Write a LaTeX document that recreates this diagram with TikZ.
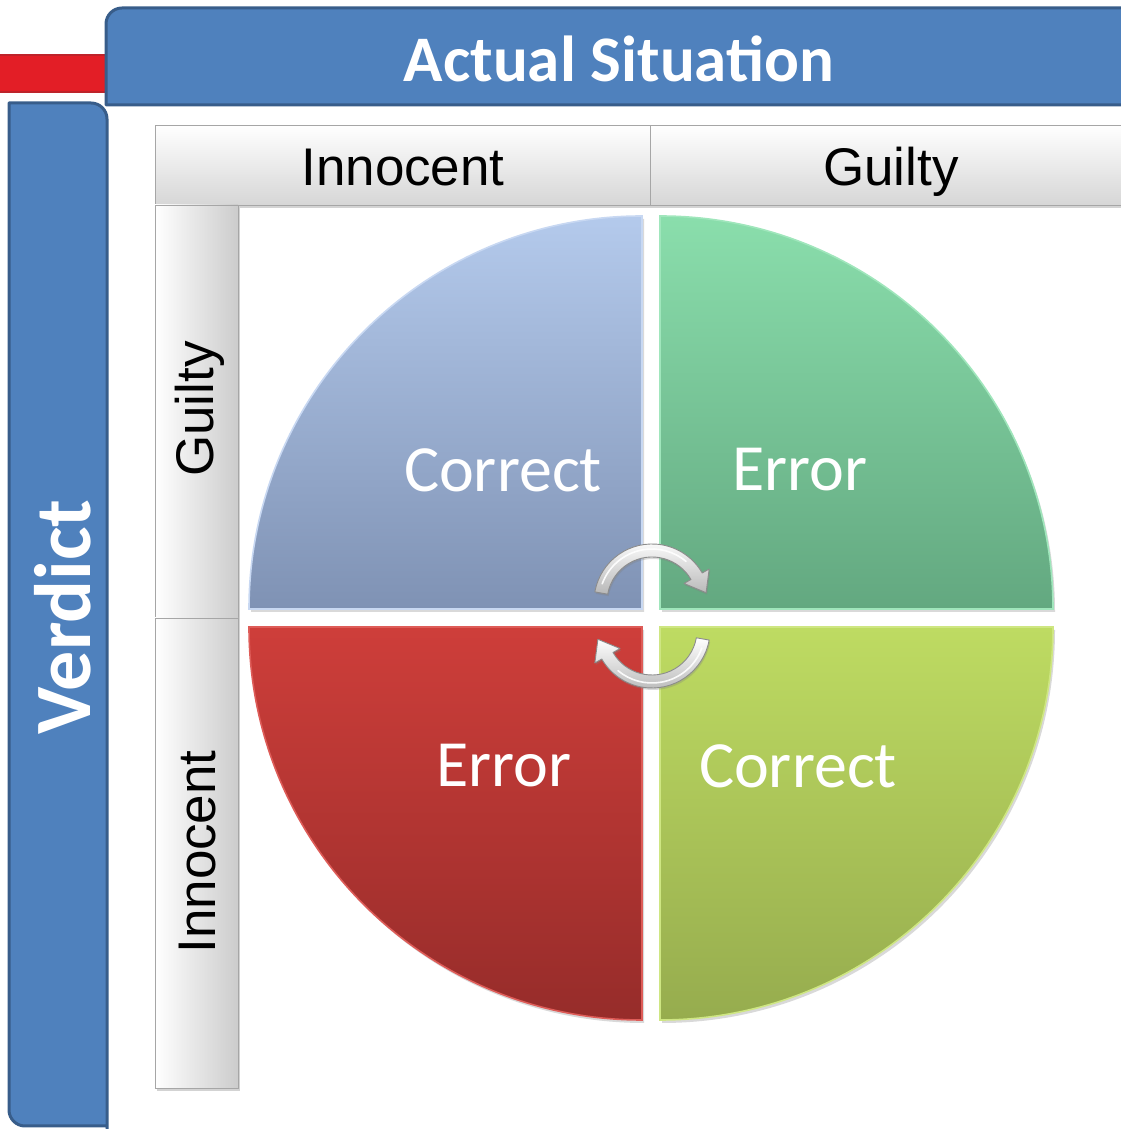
\documentclass[tikz,border=0pt]{standalone}
\usepackage{fontspec}
\setmainfont{Carlito}
\newfontfamily\arialfont{Liberation Sans}
\usetikzlibrary{calc,shadows}

\definecolor{barblue}{RGB}{79,129,189}
\definecolor{barline}{RGB}{56,93,138}
\definecolor{barred}{RGB}{227,30,38}
\definecolor{barredline}{RGB}{190,35,42}
\definecolor{blueTop}{RGB}{180,202,236}
\definecolor{blueBot}{RGB}{127,146,180}
\definecolor{blueEdge}{RGB}{200,216,242}
\definecolor{greenTop}{RGB}{138,222,172}
\definecolor{greenBot}{RGB}{99,168,128}
\definecolor{greenEdge}{RGB}{160,230,188}
\definecolor{redTop}{RGB}{206,62,58}
\definecolor{redBot}{RGB}{150,44,42}
\definecolor{redEdge}{RGB}{222,92,88}
\definecolor{limeTop}{RGB}{190,219,98}
\definecolor{limeBot}{RGB}{150,172,78}
\definecolor{limeEdge}{RGB}{206,230,130}

\tikzset{
  bar/.style={fill=barblue, draw=barline, line width=3pt, line join=round},
  bartext/.style={text=white, font=\bfseries\fontsize{65}{70}\selectfont, inner sep=0pt},
  hbox/.style={top color=white, bottom color=black!16, draw=black!35, line width=0.8pt,
    drop shadow={opacity=0.35, shadow xshift=1.5pt, shadow yshift=-3pt}},
  vbox/.style={left color=white, right color=black!20, draw=black!35, line width=0.8pt,
    drop shadow={opacity=0.35, shadow xshift=2pt, shadow yshift=-3pt}},
  headtext/.style={text=black, font=\arialfont\fontsize{53}{55}\selectfont, inner sep=0pt},
  quad/.style={line width=1.6pt,
    drop shadow={opacity=0.3, shadow xshift=2pt, shadow yshift=-3pt}},
  quadtext/.style={text=white, font=\fontsize{66}{68}\selectfont, inner sep=0pt},
  silver/.style={top color=white, bottom color=black!28, draw=black!45, line width=0.9pt,
    line join=round, drop shadow={opacity=0.3, shadow xshift=1pt, shadow yshift=-2pt}},
}

% curved arrow: arc of the ring from 170 deg clockwise to 30 deg, head at the end
\newcommand{\ringarrow}[3]{%
  \begin{scope}[shift={(#1,#2)}, rotate=#3]
    \path[silver] (170:58) arc[start angle=170, end angle=30, radius=58]
      -- (30:66) -- ($(30:51.5)+(-60:19)$) -- (30:37) -- (30:45)
      arc[start angle=30, end angle=170, radius=45] -- cycle;
    \draw[white, line width=1.6pt, line cap=round, opacity=0.9]
      (160:53) arc[start angle=160, end angle=50, radius=53];
  \end{scope}}

\begin{document}
\begin{tikzpicture}[x=1pt, y=1pt]
\useasboundingbox (0,0) rectangle (1120,1129);

% red strip at the top left
\path[fill=barred, draw=barredline, line width=1.5pt] (-5,1074) rectangle (108,1037);

% blue title bars
\path[bar] (106,1024) -- (106,1105) arc[start angle=180, end angle=90, radius=16]
  -- (1135,1121) -- (1135,1024) -- cycle;
\node[bartext] (actual) at (619,1070) {Actual Situation};

\path[bar] (9,1026) -- (91,1026) arc[start angle=90, end angle=0, radius=16]
  -- (107,-5) -- (107,3) -- (25,3) arc[start angle=270, end angle=180, radius=16] -- cycle;
\node[bartext, font=\bfseries\fontsize{80}{82}\selectfont, rotate=90] (verdict) at (63,512) {Verdict};

% column headers
\path[hbox] (155,1004) rectangle (650,924);
\path[hbox] (650,1004) rectangle (1135,924);
\node[headtext, anchor=base] (colinn) at (403,943) {Innocent};
\node[headtext, anchor=base] (colgui) at (891,943) {Guilty};

% row headers
\path[vbox] (155,924) rectangle (238,511);
\path[vbox] (155,511) rectangle (238,41);
\node[headtext, rotate=90] (rowgui) at (200,720) {Guilty};
\node[headtext, rotate=90] (rowinn) at (198,277) {Innocent};

% four quarter discs
\path[quad, top color=blueTop, bottom color=blueBot, draw=blueEdge]
  (642,520) -- (249,520) arc[start angle=180, end angle=90, radius=393] -- cycle;
\path[quad, top color=greenTop, bottom color=greenBot, draw=greenEdge]
  (660,520) -- (660,913) arc[start angle=90, end angle=0, radius=393] -- cycle;
\path[quad, top color=redTop, bottom color=redBot, draw=redEdge]
  (642,502) -- (642,109) arc[start angle=270, end angle=180, radius=393] -- cycle;
\path[quad, top color=limeTop, bottom color=limeBot, draw=limeEdge]
  (660,502) -- (1053,502) arc[start angle=0, end angle=-90, radius=393] -- cycle;

\node[quadtext] (tl) at (503,659) {Correct};
\node[quadtext] (tr) at (800,659) {Error};
\node[quadtext] (bl) at (504,363) {Error};
\node[quadtext] (br) at (798,363) {Correct};

% rotation arrows in the middle
\ringarrow{652}{527}{0}
\ringarrow{652}{499}{180}
\end{tikzpicture}
\end{document}
